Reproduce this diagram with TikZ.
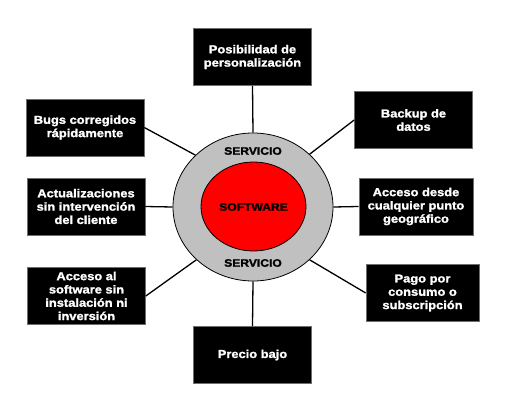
\documentclass[tikz,border=0pt]{standalone}
\usepackage{fontspec}
\setmainfont[FakeStretch=1.12,BoldFeatures={FakeBold=1.6}]{Liberation Sans}
\usetikzlibrary{shapes.geometric}
\definecolor{ringgray}{RGB}{192,192,192}
\definecolor{rimgray}{RGB}{110,110,110}
\tikzset{
  feat/.style={fill=black,draw=rimgray,line width=0.6pt,text=white,align=center,
    minimum width=118pt,minimum height=57pt,inner sep=2pt,
    font=\fontsize{11.5}{13.3}\selectfont\bfseries},
  link/.style={line width=1.3pt},
  ringlabel/.style={font=\fontsize{10.8}{12}\selectfont\bfseries,inner sep=0pt}
}

\begin{document}
\begin{tikzpicture}[x=1pt,y=-1pt]
\useasboundingbox (0,0) rectangle (512,415);
% ---------- centre: service ring and software core ----------
\node[ellipse,draw,line width=0.8pt,fill=ringgray,minimum width=160pt,minimum height=148pt,inner sep=0pt] (serv) at (253,207) {};
\node[ellipse,draw,line width=0.8pt,fill=red,minimum width=105pt,minimum height=89pt,inner sep=0pt] (soft) at (253.5,206.5) {};
\node[ringlabel] (softlbl) at (253.5,207) {SOFTWARE};
\node[ringlabel] (servtop) at (253,151) {SERVICIO};
\node[ringlabel] (servbot) at (253,263) {SERVICIO};
% ---------- boxes round the ring ----------
\node[feat] (perso)  at (252.5,57)  {Posibilidad de\\personalización};
\node[feat] (backup) at (413.5,120) {Backup de\\datos};
\node[feat] (bugs)   at (85,127.5)  {Bugs corregidos\\rápidamente};
\node[feat] (actual) at (86,206.5)  {Actualizaciones\\sin intervención\\del cliente};
\node[feat,minimum width=114pt] (acceso) at (416,206.5) {Acceso desde\\cualquier punto\\geográfico};
\node[feat] (sininst) at (86.5,296) {Acceso al\\software sin\\instalación ni\\inversión};
\node[feat,minimum width=113pt] (pago) at (422.5,293) {Pago por\\consumo o\\subscripción};
\node[feat] (precio) at (252.5,355) {Precio bajo};
% ---------- links ----------
\draw[link] (serv.north) -- (perso.south);
\draw[link] (serv.43) -- (backup.west);
\draw[link] (serv.138) -- (bugs.east);
\draw[link] (serv.west) -- (actual.east);
\draw[link] (serv.east) -- (acceso.west);
\draw[link] (serv.223) -- (sininst.east);
\draw[link] (serv.317) -- (pago.west);
\draw[link] (serv.south) -- (precio.north);
\end{tikzpicture}
\end{document}
